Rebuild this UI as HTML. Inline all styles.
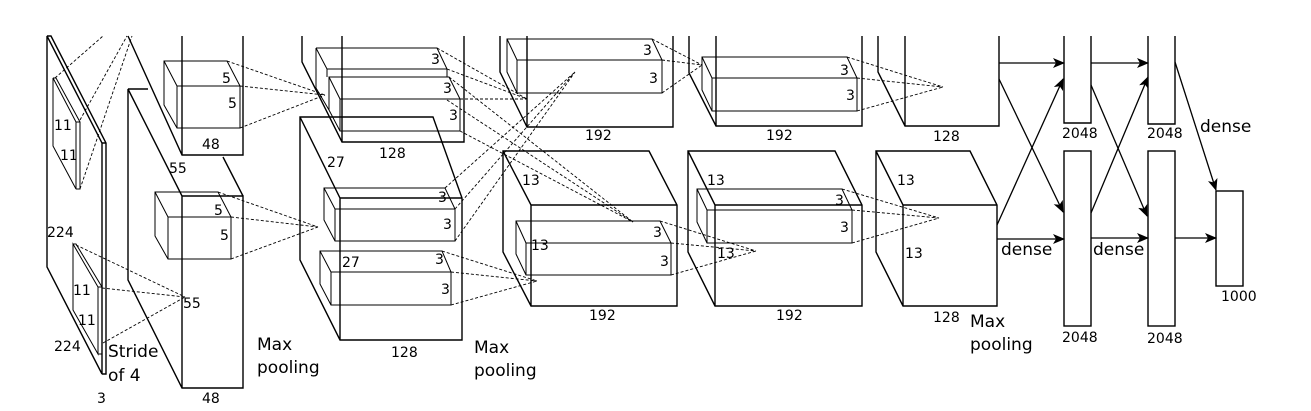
<!DOCTYPE html>
<html><head><meta charset="utf-8"><style>html,body{margin:0;padding:0;background:#fff}svg{display:block}</style></head><body>
<svg width="1311" height="411" viewBox="0 0 1311 411" xmlns="http://www.w3.org/2000/svg" font-family="DejaVu Sans, Liberation Sans, sans-serif" font-size="14" fill="none">
<defs><marker id="a" markerWidth="12" markerHeight="10" refX="11" refY="5" orient="auto" markerUnits="userSpaceOnUse"><path d="M0,0 L12,5 L0,10 L3,5 Z" fill="#000"/></marker></defs>
<g stroke="#000" stroke-width="1.4">
<path d="M47,36 L102,143 L102,374 L47,267 Z M47,36 L51,36 L106,143 L106,374 L102,374 M102,143 L106,143"/>
<path d="M53,78 L76,122 L76,189 L53,146 Z M53,78 L56,78 L80,122 L80,189 L76,189 M76,122 L80,122" stroke-width="1"/>
<path d="M73,244 L98,287 L98,354 L73,310 Z M73,244 L76,244 L102,287 L102,354 L98,354 M98,287 L102,287" stroke-width="1"/>
<path d="M128,36 L182,155 L243,155 L243,36 M182,36 L182,155"/>
<path d="M128,89 L148,89 M128,89 L182,196 L243,196 L243,388 L182,388 L128,280 Z M182,196 L182,388 M223,157 L243,196"/>
<path d="M164,61 L227,61 L240,86 L240,128 L177,128 L164,105 Z M177,86 L240,86 M177,86 L177,128 M164,61 L177,86" stroke-width="1"/>
<path d="M155,192 L218,192 L231,217 L231,259 L168,259 L155,236 Z M168,217 L231,217 M168,217 L168,259 M155,192 L168,217" stroke-width="1"/>
<path d="M302,36 L302,62 L342,142 L464,142 L464,36 M342,36 L342,142"/>
<path d="M316,48 L437,48 L447,69 L447,77 M316,48 L316,88 L329,110 M316,48 L327,69 L447,69 M327,69 L327,77" stroke-width="1"/>
<path d="M329,77 L449,77 L460,99 L460,131 L340,131 L329,110 Z M340,99 L460,99 M340,99 L340,131 M329,77 L340,99" stroke-width="1"/>
<path d="M300,117 L433,117 L462,198 L462,340 L340,340 L300,260 Z M300,117 L340,198 L462,198 M340,198 L340,340"/>
<path d="M324,188 L445,188 L455,209 L455,241 L335,241 L324,220 Z M335,209 L455,209 M335,209 L335,241 M324,188 L335,209" stroke-width="1"/>
<path d="M320,251 L442,251 L451,272 L451,305 L331,305 L320,284 Z M331,272 L451,272 M331,272 L331,305 M320,251 L331,272" stroke-width="1"/>
<path d="M500,36 L500,72 L527,127 L673,127 L673,36 M527,36 L527,127"/>
<path d="M507,39 L652,39 L662,60 L662,93 L517,93 L507,72 Z M517,60 L662,60 M517,60 L517,93 M507,39 L517,60" stroke-width="1"/>
<path d="M503,151 L649,151 L677,205 L677,306 L531,306 L503,252 Z M503,151 L531,205 L677,205 M531,205 L531,306"/>
<path d="M516,221 L660,221 L671,243 L671,275 L526,275 L516,254 Z M526,243 L671,243 M526,243 L526,275 M516,221 L526,243" stroke-width="1"/>
<path d="M689,36 L689,73 L716,126 L862,126 L862,36 M716,36 L716,126"/>
<path d="M702,57 L847,57 L857,78 L857,111 L712,111 L702,90 Z M712,78 L857,78 M712,78 L712,111 M702,57 L712,78" stroke-width="1"/>
<path d="M688,151 L835,151 L862,205 L862,306 L715,306 L688,252 Z M688,151 L715,205 L862,205 M715,205 L715,306"/>
<path d="M697,189 L842,189 L852,210 L852,243 L707,243 L697,222 Z M707,210 L852,210 M707,210 L707,243 M697,189 L707,210" stroke-width="1"/>
<path d="M878,36 L878,72 L905,126 L999,126 L999,36 M905,36 L905,126"/>
<path d="M876,151 L970,151 L997,205 L997,306 L903,306 L876,252 Z M876,151 L903,205 L997,205 M903,205 L903,306"/>
<path d="M1064,36 L1064,123 L1091,123 L1091,36 M1148,36 L1148,124 L1175,124 L1175,36"/>
<rect x="1064" y="151" width="27" height="175"/><rect x="1148" y="151" width="27" height="175"/>
<rect x="1216" y="191" width="27" height="95"/>
</g>
<g stroke="#000" stroke-width="1.3" marker-end="url(#a)">
<line x1="999" y1="63" x2="1064" y2="63"/><line x1="999" y1="79" x2="1063" y2="212"/>
<line x1="997" y1="225" x2="1063" y2="79"/><line x1="997" y1="239" x2="1064" y2="239"/>
<line x1="1091" y1="63" x2="1148" y2="63"/><line x1="1091" y1="85" x2="1147" y2="216"/>
<line x1="1091" y1="213" x2="1148" y2="77"/><line x1="1091" y1="238" x2="1148" y2="238"/>
<line x1="1175" y1="62" x2="1216" y2="190"/><line x1="1175" y1="238" x2="1216" y2="238"/>
</g>
<g stroke="#000" stroke-width="0.9" stroke-dasharray="3,2">
<path d="M55,78 L103,36 M80,120 L127,36 M80,189 L132,36"/>
<path d="M76,245 L185,297 M102,288 L185,297 M103,343 L185,297"/>
<path d="M227,61 L325,95 M240,86 L325,95 M240,128 L325,95"/>
<path d="M218,192 L318,227 M231,217 L318,227 M231,259 L318,227"/>
<path d="M437,48 L527,99 M447,69 L527,99 M447,100 L633,222"/>
<path d="M449,77 L633,222 M460,99 L527,99 M460,131 L633,222"/>
<path d="M445,188 L575,72 M455,209 L575,72 M455,241 L575,72"/>
<path d="M442,251 L537,281 M451,272 L537,281 M451,305 L537,281"/>
<path d="M652,39 L702,65 M662,60 L702,65 M662,93 L702,65"/>
<path d="M660,221 L756,251 M671,243 L756,251 M671,275 L756,251"/>
<path d="M847,57 L943,87 M857,78 L943,87 M857,111 L943,87"/>
<path d="M842,189 L939,218 M852,210 L939,218 M852,243 L939,218"/>
</g>
<g fill="#000" stroke="none">
<text x="54" y="130">11</text><text x="60" y="160">11</text>
<text x="73" y="295">11</text><text x="78" y="325">11</text>
<text x="47" y="237">224</text><text x="54" y="351">224</text>
<text x="97" y="403">3</text>
<text x="222" y="83">5</text><text x="228" y="108">5</text>
<text x="214" y="215">5</text><text x="220" y="240">5</text>
<text x="169" y="173">55</text><text x="183" y="308">55</text>
<text x="202" y="149">48</text><text x="202" y="403">48</text>
<text x="431" y="64">3</text><text x="443" y="93">3</text><text x="449" y="120">3</text>
<text x="327" y="167">27</text><text x="379" y="158">128</text>
<text x="438" y="202">3</text><text x="443" y="229">3</text>
<text x="342" y="267">27</text><text x="435" y="264">3</text><text x="441" y="294">3</text>
<text x="391" y="357">128</text>
<text x="643" y="55">3</text><text x="649" y="83">3</text><text x="585" y="140">192</text>
<text x="522" y="185">13</text><text x="531" y="250">13</text>
<text x="653" y="237">3</text><text x="660" y="266">3</text><text x="589" y="320">192</text>
<text x="840" y="75">3</text><text x="846" y="100">3</text><text x="766" y="140">192</text>
<text x="707" y="185">13</text><text x="717" y="258">13</text>
<text x="835" y="205">3</text><text x="840" y="232">3</text><text x="776" y="320">192</text>
<text x="933" y="141">128</text>
<text x="897" y="185">13</text><text x="905" y="258">13</text><text x="933" y="322">128</text>
<text x="1062" y="138">2048</text><text x="1147" y="138">2048</text>
<text x="1062" y="342">2048</text><text x="1147" y="343">2048</text>
<text x="1221" y="301">1000</text>
<g font-size="17">
<text x="108" y="357">Stride</text><text x="108" y="381">of 4</text>
<text x="257" y="350">Max</text><text x="257" y="373">pooling</text>
<text x="474" y="353">Max</text><text x="474" y="376">pooling</text>
<text x="970" y="327">Max</text><text x="970" y="350">pooling</text>
<text x="1200" y="132">dense</text><text x="1001" y="255">dense</text><text x="1093" y="255">dense</text>
</g>
</g>
</svg>
</body></html>
